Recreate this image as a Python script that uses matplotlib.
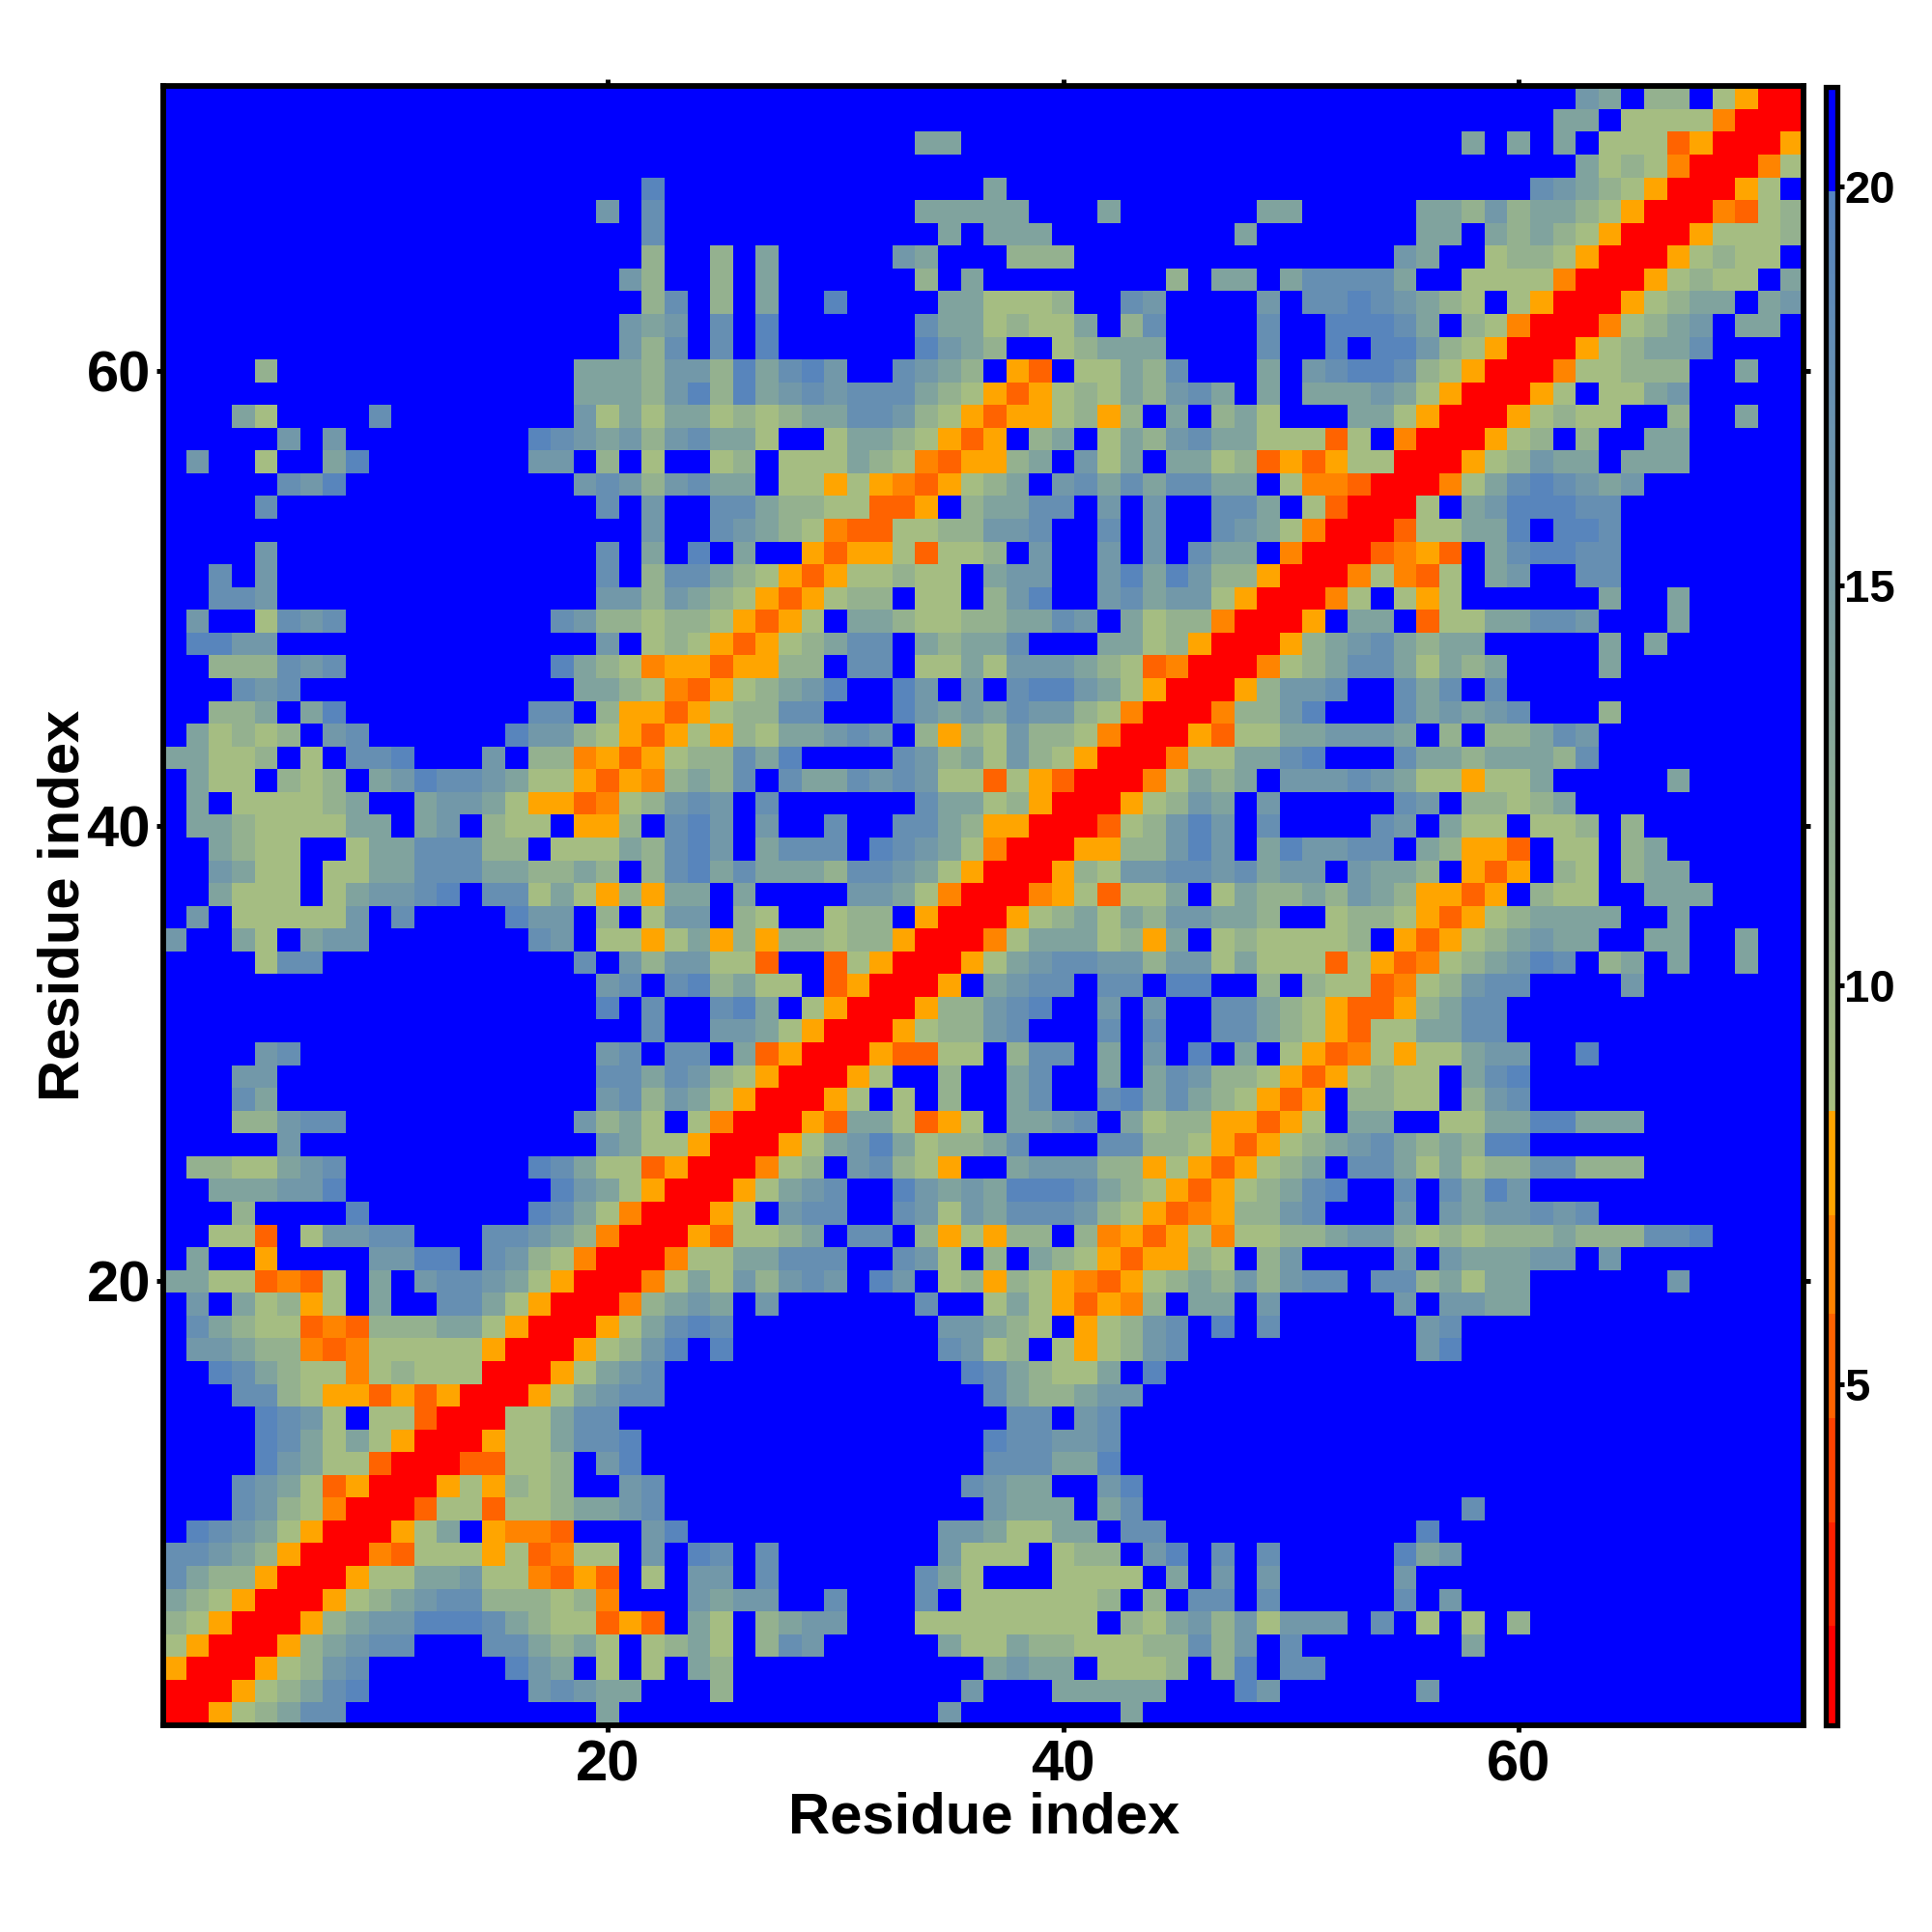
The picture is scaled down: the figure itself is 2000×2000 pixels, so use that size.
import numpy as np
import matplotlib
matplotlib.use("Agg")
from matplotlib import pyplot as plt
from matplotlib.colors import LinearSegmentedColormap

plt.rcParams['font.family'] = ['Liberation Sans', 'DejaVu Sans']
plt.rcParams['font.weight'] = 'bold'

n_residues = 72

# distance (angstrom) per letter, anything not listed is far (blue)
level_values = {'r': 1.5, 'x': 5.2, 'm': 6.5, 'o': 7.8,
                'a': 9.0, 'b': 11.3, 'c': 14.0, 'd': 16.0, 'e': 17.7, 'f': 19.5}
far_value = 21.0

# residue -> {first partner residue: letters}, only partners >= residue, map is symmetric
upper_cells = {
    1: {1: "rroabcee", 20: "c", 35: "d", 43: "c"},
    2: {2: "rroabcef", 17: "dedcc", 25: "b", 36: "d", 40: "ccccc", 48: "fd", 56: "d"},
    3: {3: "rroabde", 16: "fdc", 20: "a", 22: "a", 24: "cb", 37: "cdcc", 42: "aaab", 47: "bf", 50: "ee"},
    4: {4: "rrobcdee", 15: "eecbca", 22: "abca", 27: "bed", 35: "caacbbaaabbebd", 50: "e", 58: "c"},
    5: {5: "rrobcddfffecbaaxox", 24: "ca", 27: "bcdd", 34: "aaaaaaaa", 43: "bacdbdaddd", 54: "e", 56: "a", 58: "a", 60: "b"},
    6: {6: "rroabcdeebbbabm", 24: "dcdd", 30: "e", 34: "e", 36: "aaaaaab", 44: "b", 46: "ee", 49: "e", 55: "e", 57: "d"},
    7: {7: "rroaaccdaamxox", 22: "a", 24: "dd", 27: "e", 34: "eca", 40: "aaaa", 45: "c", 47: "d", 49: "d", 55: "d"},
    8: {8: "rrmxaaaoaxmaa", 22: "d", 24: "fe", 27: "e", 35: "daaa", 40: "abb", 44: "df", 47: "e", 49: "e", 55: "fcd"},
    9: {9: "rroac", 15: "ommx", 22: "df", 35: "ddcaacc", 43: "ee", 56: "f"},
    10: {10: "rrxaaxaabccde", 37: "dccc", 42: "ce", 58: "e"},
    11: {11: "rroaobab", 21: "de", 36: "edcc", 42: "df"},
    12: {12: "rrxxaab", 20: "df", 37: "eeeccf"},
    13: {13: "rroaaceef", 37: "feedde"},
    14: {14: "rraacee", 38: "ee", 41: "de"},
    15: {15: "rroacdee", 37: "ecbbcdd"},
    16: {16: "rroacde", 36: "fecbaac", 44: "f"},
    17: {17: "rroabdf", 25: "f", 35: "edab", 40: "aoabde", 56: "df"},
    18: {18: "rroacefe", 35: "ddcba", 41: "oabde", 47: "f", 49: "e", 56: "de"},
    19: {19: "rrmbcdc", 27: "d", 34: "e", 37: "acaoxomb", 46: "cc", 49: "d", 55: "d", 57: "ddcc"},
    20: {20: "rrmacadbded", 32: "fd", 35: "abobaomxoabcbdbdee", 54: "eebcacc", 67: "d"},
    21: {21: "rrmaacceee", 33: "eda", 37: "b", 39: "cbaoxooba", 49: "bd", 55: "d", 57: "dcccdd", 64: "d"},
    22: {22: "rroxaabc", 31: "ee", 34: "boaobb", 41: "bmoxoamaabbcddbababbbcbbbeef"},
    23: {23: "rroa", 28: "dee", 33: "edadceeedbaoxmobbde", 55: "d", 57: "dcddede"},
    24: {24: "rroacde", 33: "fdcdcfffecbaoxoabcef", 55: "e", 57: "ecfd"},
    25: {25: "rrmab", 31: "debao", 38: "cdddbboaoxoabc", 53: "eecacabbeebbb"},
    26: {26: "rroacdfcabbce", 42: "eebbaoxoabcdecbcbff"},
    27: {27: "rroxccaxoa", 38: "ccde", 43: "cabbooxoa", 53: "cc", 57: "aaccffccc"},
    28: {28: "rroa", 33: "a", 35: "b", 38: "ce", 42: "efcecbaoxo", 53: "bbaa", 58: "bde"},
    29: {29: "rroa", 35: "b", 38: "ce", 42: "c", 44: "cedbbaoxoabaa", 58: "cef"},
    30: {30: "rroxxaa", 38: "bee", 42: "c", 44: "d", 46: "f", 48: "c", 50: "aoxmaoaacdd", 63: "f"},
    31: {31: "rroabbde", 42: "e", 44: "e", 47: "eecbaoxaaccee"},
    32: {32: "rrobbdef", 42: "d", 44: "d", 47: "eecbaoxxobcee"},
    33: {33: "rro", 37: "cdee", 42: "ee", 45: "ff", 49: "b", 51: "baaxmabdee", 65: "d"},
    34: {34: "rroacdeeddbddacaaaxaoxmabcdfe", 64: "bc", 67: "c", 70: "c"},
    35: {35: "rrmacccaboc", 47: "abaaaab", 55: "oxoabcdcc", 66: "cc", 70: "c"},
    36: {36: "rroabcacbddccb", 52: "abbaoxoabcccc", 67: "c"},
    37: {37: "rrmoaxaac", 47: "acbbcbdcbooxo", 61: "baa", 66: "ccc"},
    38: {38: "rrobaddeedecdd", 53: "dccb", 58: "oxo", 62: "ba", 65: "bcc"},
    39: {39: "rroobbdfd", 49: "cfddee", 56: "cboox", 62: "aa", 65: "bc"},
    40: {40: "rrxabdfd", 49: "e", 54: "ed", 57: "caa", 61: "aab", 65: "b"},
    41: {41: "rroabdc", 49: "d", 55: "ed", 58: "bbabc"},
    42: {42: "rrmacbc", 50: "dddedcaaoaac", 67: "c"},
    43: {43: "rrmaaccef", 55: "eccbcccbe"},
    44: {44: "rroxaaccdddc", 57: "b", 59: "bbced"},
    45: {45: "rrmbbdf", 55: "ecdcde", 64: "b"},
    46: {46: "rrobdde", 55: "ece", 59: "e"},
    47: {47: "rrmabceecacbc", 64: "c"},
    48: {48: "rrobcdecbcc", 64: "c", 66: "c"},
    49: {49: "rro", 53: "cc", 56: "xaacceed", 67: "c"},
    50: {50: "rrma", 55: "aoa", 64: "c", 67: "c"},
    51: {51: "rrmamxa", 59: "cd", 63: "ee"},
    52: {52: "rrxmox", 59: "ceffee"},
    53: {53: "rrxaaccf", 62: "ffe"},
    54: {54: "rra", 58: "cdfffee"},
    55: {55: "rrmacefedcd"},
    56: {56: "rroabdcc", 65: "ccc"},
    57: {57: "rroab", 63: "b", 66: "cc"},
    58: {58: "rroabaa", 67: "b", 70: "c"},
    59: {59: "rroa", 64: "aacd"},
    60: {60: "rrmaabbb", 70: "c"},
    61: {61: "rroabcce"},
    62: {62: "rrmabcd", 70: "cc"},
    63: {63: "rroabcc", 71: "cd"},
    64: {64: "rroabaa", 72: "c"},
    65: {65: "rroabaa"},
    66: {66: "rroaaab"},
    67: {67: "rrmxab"},
    68: {68: "rroa"},
    69: {69: "rrma"},
    70: {70: "rro"},
    71: {71: "rr"},
    72: {72: "r"},
}

axis_ticks = [20, 40, 60]
colorbar_ticks = [5, 10, 15, 20]
axis_label = "Residue index"
vmin, vmax = 0.74, 21.25

# colour scale as on the bar: stepped red to orange, sage to steel blue, blue past 20
scale_stops = [(0.74, '#ff0000'), (2.0, '#ff0000'), (2.0, '#ff2100'), (3.3, '#ff2100'),
               (3.3, '#ff4200'), (4.6, '#ff4200'), (4.6, '#ff6300'), (5.9, '#ff6300'),
               (5.9, '#ff8400'), (7.15, '#ff8400'), (7.15, '#ffa500'), (8.45, '#ffa500'),
               (8.45, '#a9c07f'), (19.97, '#5583bf'), (19.97, '#0000ff'), (21.25, '#0000ff')]

dist = np.full((n_residues, n_residues), far_value)
for res, segments in upper_cells.items():
    for start, letters in segments.items():
        for k, letter in enumerate(letters):
            dist[res - 1, start - 1 + k] = level_values[letter]
            dist[start - 1 + k, res - 1] = level_values[letter]

cmap = LinearSegmentedColormap.from_list(
    'dist', [((v - vmin) / (vmax - vmin), c) for v, c in scale_stops], N=1024)

S = 2000.0
fig = plt.figure(figsize=(20, 20), dpi=100, facecolor='white')
ax = fig.add_axes([169.3 / S, 1 - 1786 / S, (1867 - 169.3) / S, (1786 - 89.3) / S])
cax = fig.add_axes([1889.5 / S, 1 - 1785.5 / S, 12 / S, (1785.5 - 89.5) / S])

edges = np.arange(n_residues + 1) + 0.5
mesh = ax.pcolormesh(edges, edges, dist, cmap=cmap, vmin=vmin, vmax=vmax, linewidth=0, rasterized=True)
ax.set_xlim(0.5, 72.5)
ax.set_ylim(0.5, 72.5)
ax.set_xticks(axis_ticks)
ax.set_yticks(axis_ticks)
ax.tick_params(top=True, right=True, length=5, width=3.6, labelsize=43)
ax.tick_params(axis='x', pad=5.5)
ax.tick_params(axis='y', pad=4.5)
for side in ax.spines.values():
    side.set_linewidth(4.2)
ax.set_xlabel(axis_label, fontsize=43, fontweight='bold', labelpad=-1)
ax.set_ylabel(axis_label, fontsize=43, fontweight='bold', labelpad=-3)

cbar = fig.colorbar(mesh, cax=cax)
cbar.set_ticks(colorbar_ticks)
cbar.ax.tick_params(length=5, width=3.6, labelsize=34, pad=0.5)
cbar.outline.set_linewidth(3.8)
cbar.solids.set_edgecolor('face')

fig.savefig("out.png", dpi=100)
